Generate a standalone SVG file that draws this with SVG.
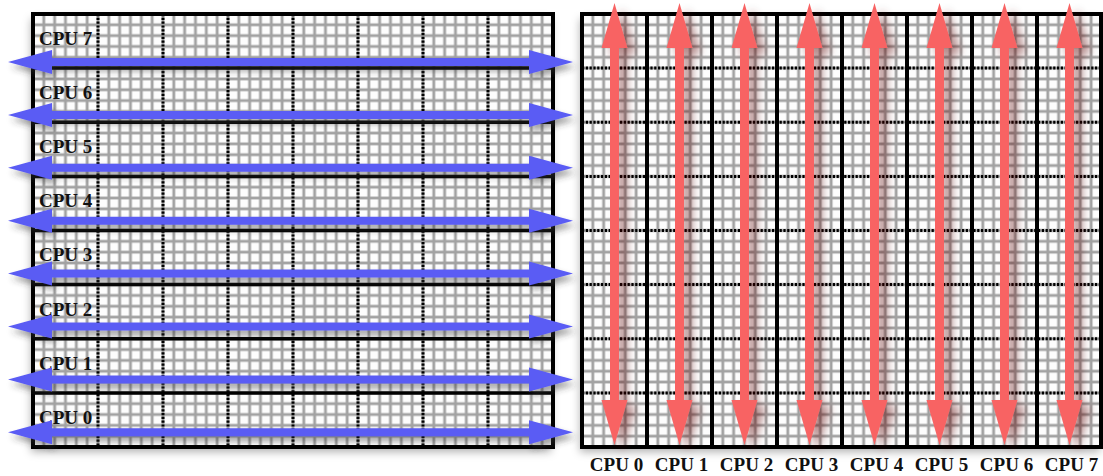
<svg xmlns="http://www.w3.org/2000/svg" width="1103" height="476" viewBox="0 0 1103 476">
  <style>
    .lbl { font-family: "Liberation Serif", "Times New Roman", serif; font-size: 19px; font-weight: bold; fill: #111; }
    .border { fill: none; stroke: #000; stroke-width: 4; }
    .div { stroke: #000; stroke-width: 3.5; }
    .dot { stroke: #000; stroke-width: 3; stroke-dasharray: 2.2 1.6; }
    .blue { fill: #5a5cf4; filter: url(#bshadow); }
    .red { fill: #f86464; filter: url(#rshadow); }
  </style>
  <defs>
    <pattern id="gridL" patternUnits="userSpaceOnUse" x="33" y="14" width="10.833" height="10.825">
      <rect width="10.833" height="10.825" fill="#a2a2a2"/>
      <rect x="1.4" y="1.4" width="8" height="8" fill="#fdfdfd"/>
    </pattern>
    <pattern id="gridR" patternUnits="userSpaceOnUse" x="582" y="14" width="10.833" height="10.825">
      <rect width="10.833" height="10.825" fill="#a2a2a2"/>
      <rect x="1.4" y="1.4" width="8" height="8" fill="#fdfdfd"/>
    </pattern>
    <filter id="bshadow" x="-5%" y="-100%" width="110%" height="300%">
      <feDropShadow dx="3" dy="5" stdDeviation="3" flood-color="#333" flood-opacity="0.45"/>
    </filter>
    <filter id="rshadow" x="-100%" y="-5%" width="300%" height="110%">
      <feDropShadow dx="8" dy="6" stdDeviation="4" flood-color="#5a0a0a" flood-opacity="0.45"/>
    </filter>
    <filter id="pshadow" x="-5%" y="-5%" width="110%" height="110%">
      <feDropShadow dx="-2" dy="5" stdDeviation="4" flood-color="#000" flood-opacity="0.3"/>
    </filter>
    <path id="harrow" d="M8,0 L52,-12 L52,-4 L529,-4 L529,-12 L573,0 L529,12 L529,4 L52,4 L52,12 Z"/>
    <path id="varrow" d="M0,3 L13,48 L4.5,48 L4.5,400 L13,400 L0,445 L-13,400 L-4.5,400 L-4.5,48 L-13,48 Z"/>
  </defs>

  <rect width="1103" height="476" fill="#fff"/>

  <!-- Left panel: row decomposition -->
  <g id="left-panel">
    <rect x="33" y="14" width="520" height="433" fill="url(#gridL)" filter="url(#pshadow)"/>
    <g class="dot">
      <line x1="98" y1="14" x2="98" y2="447"/>
      <line x1="163" y1="14" x2="163" y2="447"/>
      <line x1="228" y1="14" x2="228" y2="447"/>
      <line x1="293" y1="14" x2="293" y2="447"/>
      <line x1="358" y1="14" x2="358" y2="447"/>
      <line x1="423" y1="14" x2="423" y2="447"/>
      <line x1="488" y1="14" x2="488" y2="447"/>
    </g>
    <g class="div">
      <line x1="33" y1="68.1" x2="553" y2="68.1"/>
      <line x1="33" y1="122.3" x2="553" y2="122.3"/>
      <line x1="33" y1="176.4" x2="553" y2="176.4"/>
      <line x1="33" y1="230.5" x2="553" y2="230.5"/>
      <line x1="33" y1="284.6" x2="553" y2="284.6"/>
      <line x1="33" y1="338.8" x2="553" y2="338.8"/>
      <line x1="33" y1="392.9" x2="553" y2="392.9"/>
    </g>
    <rect class="border" x="33" y="14" width="520" height="433"/>
  </g>

  <!-- Right panel: column decomposition -->
  <g id="right-panel">
    <rect x="582" y="14" width="520" height="433" fill="url(#gridR)" filter="url(#pshadow)"/>
    <g class="dot">
      <line x1="582" y1="68.1" x2="1102" y2="68.1"/>
      <line x1="582" y1="122.3" x2="1102" y2="122.3"/>
      <line x1="582" y1="176.4" x2="1102" y2="176.4"/>
      <line x1="582" y1="230.5" x2="1102" y2="230.5"/>
      <line x1="582" y1="284.6" x2="1102" y2="284.6"/>
      <line x1="582" y1="338.8" x2="1102" y2="338.8"/>
      <line x1="582" y1="392.9" x2="1102" y2="392.9"/>
    </g>
    <g class="div" style="stroke-width:4">
      <line x1="647" y1="14" x2="647" y2="447"/>
      <line x1="712" y1="14" x2="712" y2="447"/>
      <line x1="777" y1="14" x2="777" y2="447"/>
      <line x1="842" y1="14" x2="842" y2="447"/>
      <line x1="907" y1="14" x2="907" y2="447"/>
      <line x1="972" y1="14" x2="972" y2="447"/>
      <line x1="1037" y1="14" x2="1037" y2="447"/>
    </g>
    <rect class="border" x="582" y="14" width="519" height="433"/>
  </g>

  <!-- Row nodes (left) -->
  <g id="row-cpu7"><text class="lbl" x="39" y="45">CPU 7</text></g>
  <g id="row-cpu6"><text class="lbl" x="39" y="99.1">CPU 6</text></g>
  <g id="row-cpu5"><text class="lbl" x="39" y="153.2">CPU 5</text></g>
  <g id="row-cpu4"><text class="lbl" x="39" y="207.3">CPU 4</text></g>
  <g id="row-cpu3"><text class="lbl" x="39" y="261.4">CPU 3</text></g>
  <g id="row-cpu2"><text class="lbl" x="39" y="315.5">CPU 2</text></g>
  <g id="row-cpu1"><text class="lbl" x="39" y="369.6">CPU 1</text></g>
  <g id="row-cpu0"><text class="lbl" x="39" y="423.7">CPU 0</text></g>

  <!-- Column nodes (right) -->
  <g id="col-cpu0"><text class="lbl" x="616.5" y="471" text-anchor="middle">CPU 0</text></g>
  <g id="col-cpu1"><text class="lbl" x="681.5" y="471" text-anchor="middle">CPU 1</text></g>
  <g id="col-cpu2"><text class="lbl" x="746.5" y="471" text-anchor="middle">CPU 2</text></g>
  <g id="col-cpu3"><text class="lbl" x="811.5" y="471" text-anchor="middle">CPU 3</text></g>
  <g id="col-cpu4"><text class="lbl" x="876.5" y="471" text-anchor="middle">CPU 4</text></g>
  <g id="col-cpu5"><text class="lbl" x="941.5" y="471" text-anchor="middle">CPU 5</text></g>
  <g id="col-cpu6"><text class="lbl" x="1006.5" y="471" text-anchor="middle">CPU 6</text></g>
  <g id="col-cpu7"><text class="lbl" x="1071.5" y="471" text-anchor="middle">CPU 7</text></g>

  <!-- Connectors: double-headed arrows -->
  <g id="connectors">
    <use href="#harrow" class="blue" transform="translate(0,62)"/>
    <use href="#harrow" class="blue" transform="translate(0,114.9)"/>
    <use href="#harrow" class="blue" transform="translate(0,167.8)"/>
    <use href="#harrow" class="blue" transform="translate(0,220.7)"/>
    <use href="#harrow" class="blue" transform="translate(0,273.6)"/>
    <use href="#harrow" class="blue" transform="translate(0,326.5)"/>
    <use href="#harrow" class="blue" transform="translate(0,379.4)"/>
    <use href="#harrow" class="blue" transform="translate(0,432.3)"/>

    <use href="#varrow" class="red" transform="translate(614.5,0)"/>
    <use href="#varrow" class="red" transform="translate(679.5,0)"/>
    <use href="#varrow" class="red" transform="translate(744.5,0)"/>
    <use href="#varrow" class="red" transform="translate(809.5,0)"/>
    <use href="#varrow" class="red" transform="translate(874.5,0)"/>
    <use href="#varrow" class="red" transform="translate(939.5,0)"/>
    <use href="#varrow" class="red" transform="translate(1004.5,0)"/>
    <use href="#varrow" class="red" transform="translate(1069.5,0)"/>
  </g>
</svg>
